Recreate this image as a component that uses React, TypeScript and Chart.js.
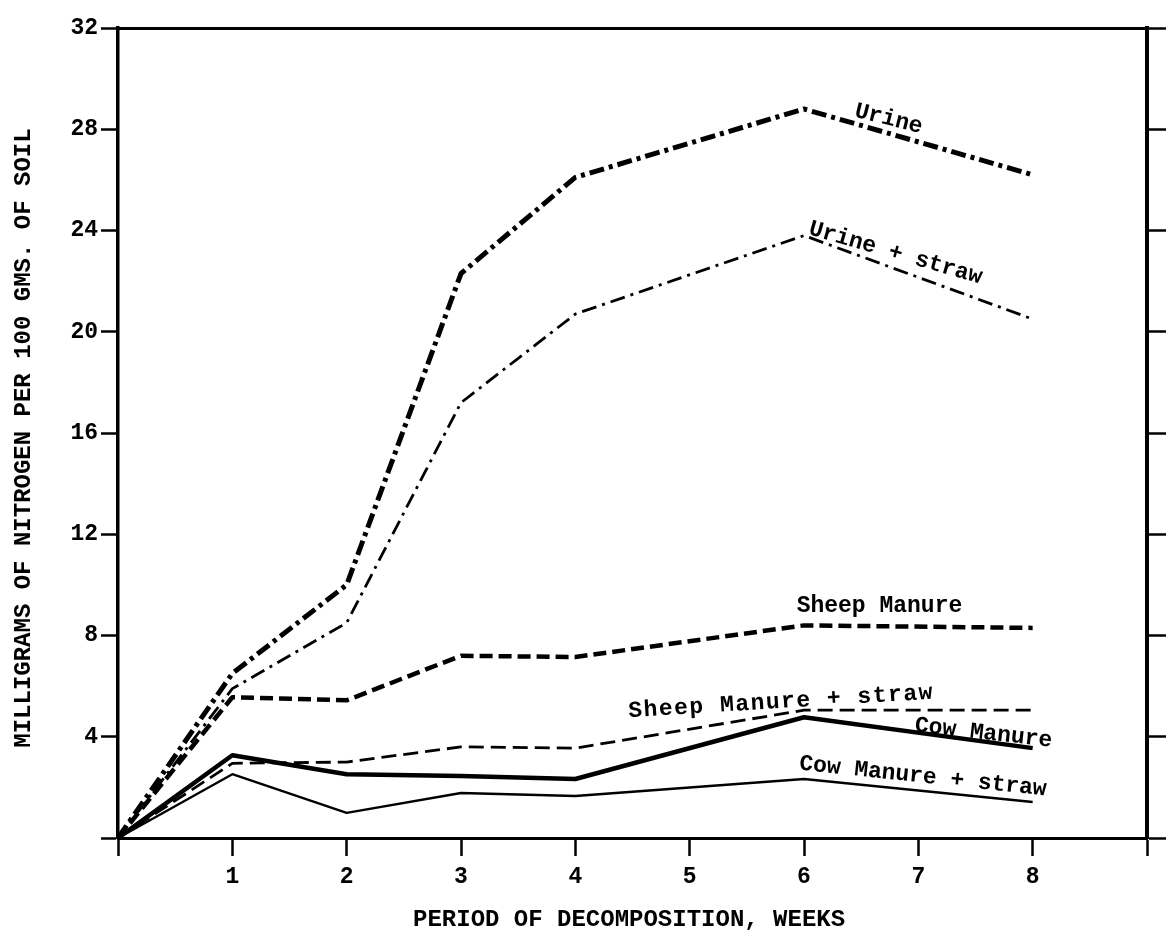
import React, { useEffect, useRef } from "react";
import { Chart, registerables } from "chart.js";

Chart.register(...registerables);

// ---- data ----
const weeks = [0, 1, 2, 3, 4, 6, 8];
const urine = [0, 6.5, 10.0, 22.3, 26.1, 28.8, 26.2];
const urineStraw = [0, 5.9, 8.5, 17.2, 20.7, 23.8, 20.5];
const sheepManure = [0, 5.56, 5.44, 7.2, 7.15, 8.4, 8.3];
const sheepManureStraw = [0, 2.95, 3.0, 3.6, 3.55, 5.05, 5.05];
const cowManure = [0, 3.27, 2.52, 2.45, 2.33, 4.77, 3.55];
const cowManureStraw = [0, 2.52, 0.99, 1.78, 1.66, 2.33, 1.42];

const seriesNames = [
  "Urine",
  "Urine + straw",
  "Sheep Manure",
  "Sheep Manure + straw",
  "Cow Manure",
  "Cow Manure + straw",
];
const xTickLabels = ["1", "2", "3", "4", "5", "6", "7", "8"];
const yTickLabels = ["4", "8", "12", "16", "20", "24", "28", "32"];
const xTitle = "PERIOD OF DECOMPOSITION, WEEKS";
const yTitle = "MILLIGRAMS OF NITROGEN PER 100 GMS. OF SOIL";

// ---- label placement (data coordinates, rotation in degrees) ----
const labelPlacement = [
  { x: 6.74, y: 28.4, rot: 14, spacing: 0 },
  { x: 6.8, y: 23.1, rot: 16, spacing: 0 },
  { x: 6.66, y: 9.16, rot: 0, spacing: 0 },
  { x: 5.8, y: 5.37, rot: -3.5, spacing: 1.5 },
  { x: 7.57, y: 4.14, rot: 6.5, spacing: 0 },
  { x: 7.04, y: 2.42, rot: 6, spacing: 0 },
];

const FONT = '"Liberation Mono", "Courier New", monospace';

const styles = [
  { width: 5, dash: [15, 5, 4, 5] },
  { width: 2.8, dash: [15, 6, 3, 6] },
  { width: 4.5, dash: [13, 6] },
  { width: 2.8, dash: [15, 7] },
  { width: 4.5, dash: [] as number[] },
  { width: 2.4, dash: [] as number[] },
];

const seriesValues = [urine, urineStraw, sheepManure, sheepManureStraw, cowManure, cowManureStraw];

const textPlugin = {
  id: "textPlugin",
  afterDatasetsDraw(chart: any) {
    const { ctx, scales } = chart;
    const xs = scales.x;
    const ys = scales.y;
    ctx.save();
    ctx.fillStyle = "#000";
    ctx.font = `bold 23px ${FONT}`;
    ctx.textAlign = "center";
    ctx.textBaseline = "middle";
    seriesNames.forEach((name, i) => {
      const p = labelPlacement[i];
      ctx.save();
      (ctx as any).letterSpacing = `${p.spacing}px`;
      ctx.translate(xs.getPixelForValue(p.x), ys.getPixelForValue(p.y));
      ctx.rotate((p.rot * Math.PI) / 180);
      ctx.fillText(name, 0, 0);
      ctx.restore();
    });
    // axis titles
    ctx.font = `bold 24px ${FONT}`;
    ctx.fillText(xTitle, xs.getPixelForValue(4.47), chart.chartArea.bottom + 82);
    ctx.save();
    ctx.translate(24, ys.getPixelForValue(15.8));
    ctx.rotate(-Math.PI / 2);
    ctx.fillText(yTitle, 0, 0);
    ctx.restore();
    ctx.restore();
  },
};

export default function App() {
  const ref = useRef<HTMLCanvasElement | null>(null);

  useEffect(() => {
    document.body.style.margin = "0";
    const canvas = ref.current;
    if (!canvas) return;

    const datasets = seriesNames.map((name, i) => ({
      label: name,
      data: weeks.map((w, j) => ({ x: w, y: seriesValues[i][j] })),
      borderColor: "#000",
      backgroundColor: "#000",
      borderWidth: styles[i].width,
      borderDash: styles[i].dash,
      pointRadius: 0,
      tension: 0,
      fill: false,
      borderJoinStyle: "round" as const,
      borderCapStyle: "butt" as const,
    }));

    const tickFont = { family: FONT, size: 23, weight: "bold" as const };

    const chart = new Chart(canvas, {
      type: "line",
      data: { datasets },
      plugins: [textPlugin],
      options: {
        animation: false,
        responsive: false,
        devicePixelRatio: 1,
        layout: { padding: { top: 28, left: 0, right: 0, bottom: 0 } },
        plugins: { legend: { display: false }, tooltip: { enabled: false } },
        scales: {
          x: {
            type: "linear",
            position: "bottom",
            min: 0,
            max: 9,
            afterFit: (s: any) => {
              s.height = 93;
            },
            ticks: {
              stepSize: 1,
              autoSkip: false,
              color: "#000",
              font: tickFont,
              padding: 7,
              maxRotation: 0,
              callback: (v: any) => (v >= 1 && v <= 8 ? xTickLabels[v - 1] : ""),
            },
            grid: {
              drawOnChartArea: false,
              drawTicks: true,
              tickLength: 18,
              tickWidth: 2.5,
              tickColor: "#000",
            },
            border: { display: true, color: "#000", width: 3 },
          },
          xTop: {
            type: "linear",
            position: "top",
            min: 0,
            max: 9,
            afterFit: (s: any) => {
              s.height = 0;
            },
            ticks: { display: false },
            grid: { drawOnChartArea: false, drawTicks: false },
            border: { display: true, color: "#000", width: 3 },
          },
          y: {
            type: "linear",
            position: "left",
            min: 0,
            max: 32,
            afterFit: (s: any) => {
              s.width = 118;
            },
            ticks: {
              stepSize: 4,
              color: "#000",
              font: tickFont,
              padding: 3,
              callback: (v: any) => (v >= 4 ? yTickLabels[v / 4 - 1] : ""),
            },
            grid: {
              drawOnChartArea: false,
              drawTicks: true,
              tickLength: 17,
              tickWidth: 2.5,
              tickColor: "#000",
            },
            border: { display: true, color: "#000", width: 3.5 },
          },
          yRight: {
            type: "linear",
            position: "right",
            min: 0,
            max: 32,
            afterFit: (s: any) => {
              s.width = 19;
            },
            ticks: { stepSize: 4, display: false },
            grid: {
              drawOnChartArea: false,
              drawTicks: true,
              tickLength: 19,
              tickWidth: 2.5,
              tickColor: "#000",
            },
            border: { display: true, color: "#000", width: 4 },
          },
        },
      },
    });

    return () => chart.destroy();
  }, []);

  return (
    <div style={{ width: 1166, height: 931, background: "#fff" }}>
      <canvas ref={ref} width={1166} height={931} style={{ display: "block" }} />
    </div>
  );
}
